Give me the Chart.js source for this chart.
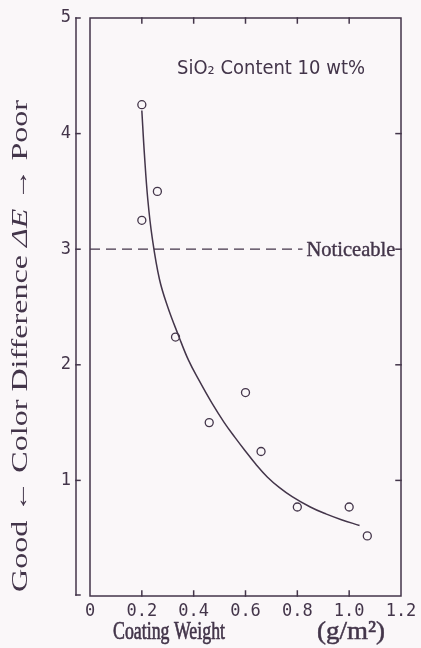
<!DOCTYPE html>
<html>
<head>
<meta charset="utf-8">
<script src="https://cdn.jsdelivr.net/npm/chart.js@4/dist/chart.umd.min.js"></script>
<style>
  html, body { margin: 0; padding: 0; background: #faf7f9; }
  canvas { display: block; }
</style>
</head>
<body>
<canvas id="chart" width="421" height="648"></canvas>
<script>
// Measured samples: coating weight (g/m²) against colour difference ΔE
const sampleWeight = [0.20, 0.20, 0.26, 0.33, 0.46, 0.60, 0.66, 0.80, 1.00, 1.07];
const sampleDeltaE = [4.25, 3.25, 3.50, 2.24, 1.50, 1.76, 1.25, 0.77, 0.77, 0.52];

// Hand-drawn trend curve through the samples
const trendWeight = [0.20, 0.21, 0.223, 0.24, 0.268, 0.30, 0.342, 0.38, 0.422, 0.47, 0.518, 0.56, 0.594, 0.64, 0.684, 0.73, 0.78, 0.85, 0.91, 0.97, 1.04];
const trendDeltaE = [4.20, 3.82, 3.43, 3.10, 2.74, 2.50, 2.25, 2.04, 1.86, 1.67, 1.50, 1.37, 1.27, 1.14, 1.03, 0.94, 0.86, 0.77, 0.71, 0.66, 0.61];

// "Noticeable" threshold line
const noticeableWeight = [0, 0.82];
const noticeableDeltaE = [3, 3];

const xTickLabels = ['0', '0.2', '0.4', '0.6', '0.8', '1.0', '1.2'];
const yTickLabels = ['', '1', '2', '3', '4', '5'];

const INK = '#43354a';
const PAPER = '#faf7f9';

const toPoints = (xs, ys) => xs.map((v, i) => ({ x: v, y: ys[i] }));

// Draws a run of text pieces squeezed/stretched to an exact length along the reading direction
function drawRuns(ctx, runs, x, y, length, angle, weight) {
  let total = 0;
  runs.forEach(r => { ctx.font = r.font; r.w = ctx.measureText(r.text).width; total += r.w; });
  ctx.save();
  ctx.translate(x, y);
  ctx.rotate(angle || 0);
  ctx.scale(length / total, 1);
  ctx.fillStyle = INK;
  ctx.strokeStyle = INK;
  ctx.lineWidth = weight || 0;
  ctx.textAlign = 'left';
  ctx.textBaseline = 'alphabetic';
  let cx = 0;
  runs.forEach(r => {
    ctx.font = r.font;
    ctx.fillText(r.text, cx, 0);
    if (weight) ctx.strokeText(r.text, cx, 0);
    cx += r.w;
  });
  ctx.restore();
}

const framePlugin = {
  id: 'frame',
  beforeDraw(chart) {
    const ctx = chart.ctx;
    ctx.save();
    ctx.fillStyle = PAPER;
    ctx.fillRect(0, 0, chart.width, chart.height);
    ctx.restore();
  },
  afterDraw(chart) {
    const { ctx, chartArea: a, scales: { x, y } } = chart;
    const line = (x1, y1, x2, y2) => { ctx.beginPath(); ctx.moveTo(x1, y1); ctx.lineTo(x2, y2); ctx.stroke(); };
    ctx.save();
    ctx.strokeStyle = INK;
    ctx.lineWidth = 1.5;
    ctx.lineCap = 'square';

    // plot frame
    ctx.strokeRect(a.left, a.top, a.right - a.left, a.bottom - a.top);

    // inward tick marks on the frame
    const t = 5;
    x.ticks.forEach((tk, i) => {
      if (i === 0 || i === x.ticks.length - 1) return;
      const px = x.getPixelForValue(tk.value);
      line(px, a.bottom, px, a.bottom - t);
      line(px, a.top, px, a.top + t);
    });
    y.ticks.forEach((tk, i) => {
      if (i === 0 || i === y.ticks.length - 1) return;
      const py = y.getPixelForValue(tk.value);
      line(a.right, py, a.right - t, py);
    });

    // detached ΔE axis to the left of the frame
    const ax = a.left - 14;
    line(ax, y.getPixelForValue(y.max), ax, y.getPixelForValue(y.min) - 1);
    y.ticks.forEach(tk => {
      const py = y.getPixelForValue(tk.value) - (tk.value === 0 ? 1 : 0);
      line(ax, py, ax + 4, py);
    });
    ctx.restore();

    // annotations
    const serif = '"Liberation Serif", "DejaVu Serif", serif';
    const sans = '"DejaVu Sans", "Liberation Sans", sans-serif';
    drawRuns(ctx, [{ text: 'SiO₂ Content 10 wt%', font: `19px ${sans}` }], 177, 74, 188);
    drawRuns(ctx, [{ text: 'Noticeable', font: `21px ${serif}` }],
      x.getPixelForValue(0.835), y.getPixelForValue(3) + 7, 89, 0, 0.4);

    // axis titles
    drawRuns(ctx, [{ text: 'Coating Weight', font: `26px ${serif}` }], 113, 639, 112, 0, 0.7);
    drawRuns(ctx, [{ text: '(g/m²)', font: `26px ${serif}` }], 317, 639, 68, 0, 0.5);
    drawRuns(ctx, [
      { text: 'Good ← Color Difference ', font: `23px ${serif}` },
      { text: 'ΔE', font: `italic 23px ${serif}` },
      { text: ' → Poor', font: `23px ${serif}` }
    ], 27, 592, 492, -Math.PI / 2);
  }
};

const tickFont = { family: '"DejaVu Sans Mono", "Liberation Mono", monospace', size: 17 };

new Chart(document.getElementById('chart'), {
  type: 'scatter',
  data: {
    datasets: [
      {
        label: 'trend',
        type: 'line',
        data: toPoints(trendWeight, trendDeltaE),
        borderColor: INK,
        borderWidth: 1.5,
        pointRadius: 0,
        fill: false,
        tension: 0.4
      },
      {
        label: 'noticeable',
        type: 'line',
        data: toPoints(noticeableWeight, noticeableDeltaE),
        borderColor: INK,
        borderWidth: 1.3,
        borderDash: [10, 6],
        pointRadius: 0,
        fill: false
      },
      {
        label: 'samples',
        data: toPoints(sampleWeight, sampleDeltaE),
        showLine: false,
        pointRadius: 4,
        pointHoverRadius: 4,
        pointBorderWidth: 1.3,
        pointBorderColor: INK,
        pointBackgroundColor: PAPER
      }
    ]
  },
  options: {
    responsive: false,
    animation: false,
    devicePixelRatio: 1,
    layout: { padding: { left: 0, right: 20, top: 18, bottom: 0 } },
    plugins: { legend: { display: false }, tooltip: { enabled: false } },
    scales: {
      x: {
        type: 'linear',
        min: 0,
        max: 1.2,
        afterFit: s => { s.height = 52; s.paddingLeft = 0; s.paddingRight = 0; },
        grid: { display: false, drawTicks: false },
        border: { display: false },
        ticks: {
          stepSize: 0.2,
          padding: 5,
          color: INK,
          font: tickFont,
          maxRotation: 0,
          callback: (v, i) => xTickLabels[i]
        }
      },
      y: {
        type: 'linear',
        min: 0,
        max: 5,
        afterFit: s => { s.width = 90; s.paddingTop = 0; s.paddingBottom = 0; },
        grid: { display: false, drawTicks: false },
        border: { display: false },
        ticks: {
          stepSize: 1,
          padding: 19,
          color: INK,
          font: tickFont,
          callback: (v, i) => yTickLabels[i]
        }
      }
    }
  },
  plugins: [framePlugin]
});
</script>
</body>
</html>
